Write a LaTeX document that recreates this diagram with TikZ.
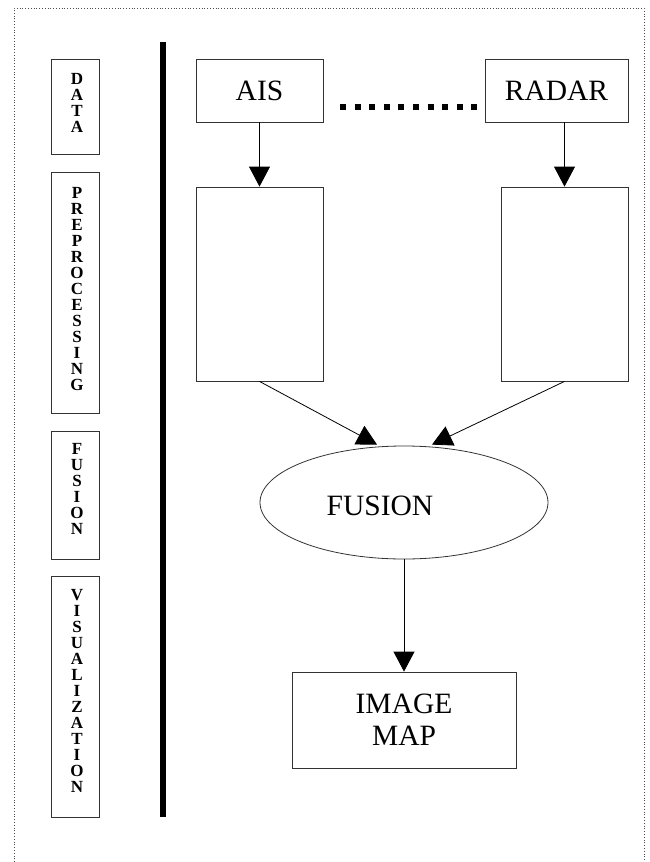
\documentclass[tikz,border=0pt]{standalone}
\usepackage{fontspec}
\setmainfont{Liberation Serif}
\usetikzlibrary{arrows.meta,shapes.geometric}
\begin{document}
\begin{tikzpicture}[x=1pt,y=-1pt,
  box/.style={draw=black!80,line width=0.8pt,inner sep=0pt,font=\fontsize{29.5}{32}\selectfont,align=center},
  lab/.style={draw=black!80,line width=0.8pt,minimum width=48pt,inner sep=0pt},
  labtxt/.style={anchor=north,inner sep=0pt,align=center,font=\bfseries\fontsize{17}{16}\selectfont},
  arr/.style={line width=0.8pt,-{Triangle[length=20pt,width=21pt]}},
  bigtxt/.style={inner sep=0pt,font=\fontsize{29.5}{32}\selectfont}]
\useasboundingbox (0,0) rectangle (650,862);
% dotted frame
\draw[black!70,line width=0.8pt,dotted] (14,862) -- (14,8) -- (644,8) -- (644,862);
% left labels
\node[lab,minimum height=95pt] (ld) at (75,106.5) {};
\node[labtxt] (ldt) at (77,73) {D\\A\\T\\A};
\node[lab,minimum height=241pt] (lp) at (75,292.5) {};
\node[labtxt] (lpt) at (77,187) {P\\R\\E\\P\\R\\O\\C\\E\\S\\S\\I\\N\\G};
\node[lab,minimum height=128pt] (lf) at (75,495) {};
\node[labtxt] (lft) at (77,443) {F\\U\\S\\I\\O\\N};
\node[lab,minimum height=241pt] (lv) at (75,696.5) {};
\node[labtxt] (lvt) at (77,589) {V\\I\\S\\U\\A\\L\\I\\Z\\A\\T\\I\\O\\N};
% thick bar
\coordinate (bt) at (163,42);
\coordinate (bb) at (163,817);
\draw[line width=6pt] (bt) -- (bb);
% main nodes
\node[box,minimum width=127pt,minimum height=63pt] (ais) at (259.5,90.5) {AIS};
\node[box,minimum width=143pt,minimum height=63pt] (radar) at (556.5,90.5) {RADAR};
\node[box,minimum width=127pt,minimum height=194pt] (pl) at (259.5,284) {};
\node[box,minimum width=127pt,minimum height=194pt] (pr) at (564.5,284) {};
\node[draw=black!80,line width=0.8pt,ellipse,inner sep=0pt,minimum width=288pt,minimum height=113pt] (fus) at (404,502.5) {};
\node[bigtxt] (fust) at (380,506) {FUSION};
\node[box,minimum width=224pt,minimum height=96pt] (map) at (404,720) {IMAGE\\MAP};
% dotted thick link
\coordinate (d1) at (340,107);
\coordinate (d2) at (478,107);
\draw[line width=6pt,dash pattern=on 6pt off 8.6pt] (d1) -- (d2);
% arrows
\draw[arr] (ais.south) -- (pl.north);
\draw[arr] (pr.north |- radar.south) -- (pr.north);
\coordinate (fl) at ([xshift=-27pt,yshift=1pt]fus.north);
\coordinate (fr) at ([xshift=28pt,yshift=1pt]fus.north);
\draw[arr] (pl.south) -- (fl);
\draw[arr] (pr.south) -- (fr);
\draw[arr] (fus.south) -- (map.north);
\end{tikzpicture}
\end{document}
